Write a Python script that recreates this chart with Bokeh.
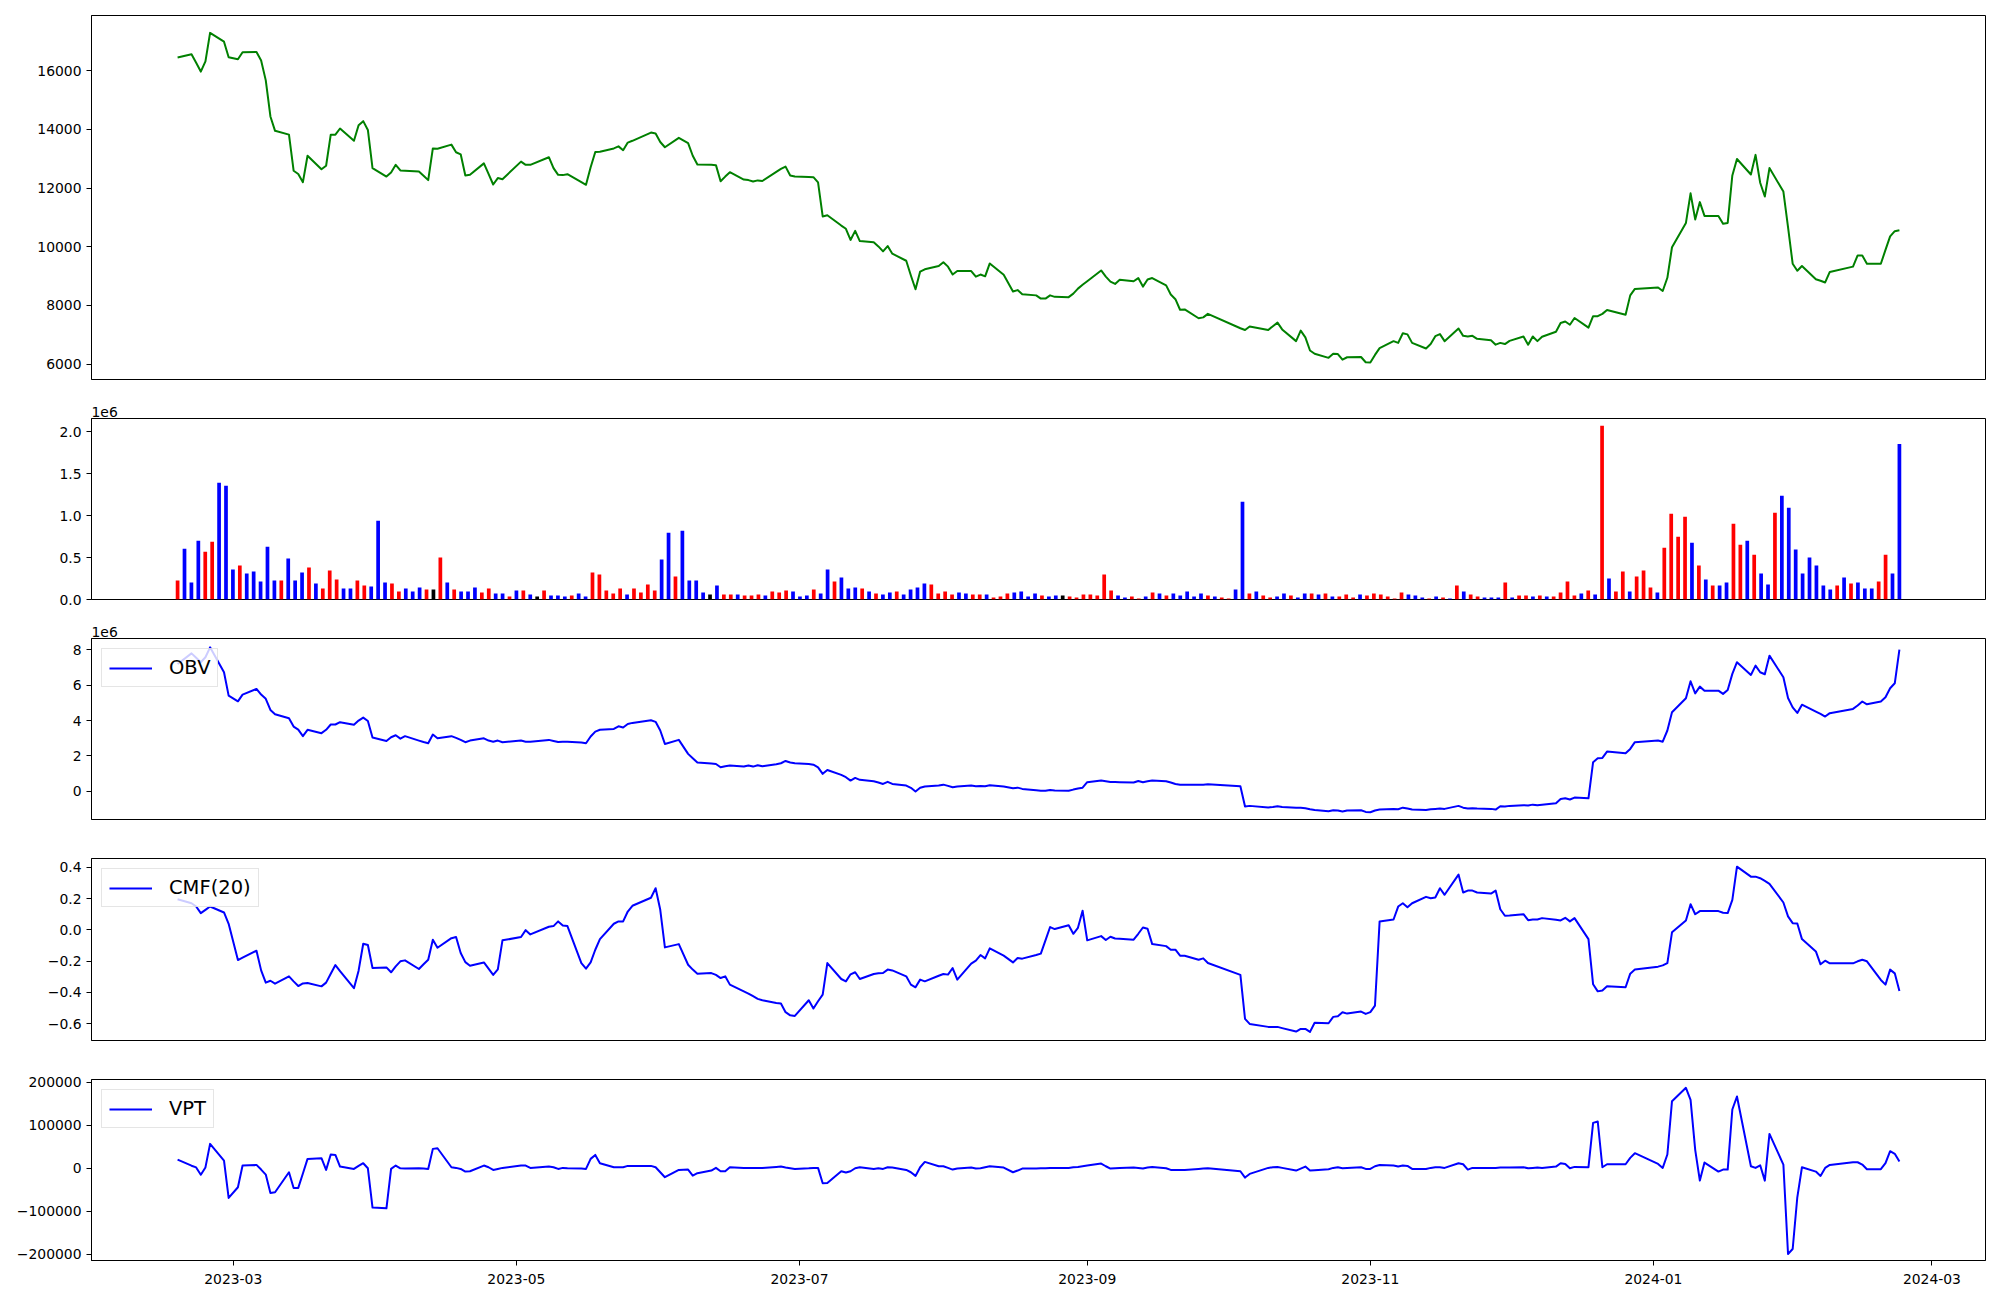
import numpy as np
import pandas as pd
from bokeh.plotting import figure
from bokeh.layouts import column
from bokeh.models import Range1d, FixedTicker, CustomJSTickFormatter, ColumnDataSource
from bokeh.embed import file_html
from bokeh.resources import INLINE

# ---------------- data ----------------
krx_holidays = ["2023-03-01", "2023-05-01", "2023-05-05", "2023-05-29", "2023-06-06",
                "2023-08-15", "2023-09-28", "2023-09-29", "2023-10-02", "2023-10-03",
                "2023-10-09", "2023-12-25", "2023-12-29", "2024-01-01", "2024-02-09",
                "2024-02-12"]
dates = pd.bdate_range("2023-02-17", "2024-02-23")
dates = dates[~dates.isin(pd.to_datetime(krx_holidays))]

close = [
    16450, 16560, 16270, 15970, 16320, 17290, 16990, 16460,
    16390, 16630, 16640, 16350, 15670, 14440, 13950, 13820, 12590, 12480, 12200, 13100,
    12640, 12760, 13820, 13820, 14030, 13610, 14140, 14280, 13980, 12680,
    12390, 12530, 12790, 12600, 12590, 12560, 12420, 12270, 13350, 13340,
    13480, 13220, 13150, 12430, 12450, 12840, 12480, 12120, 12340, 12300,
    12900, 12790, 12790, 13050, 12680, 12450, 12440, 12470, 12200, 12110,
    12710, 13230, 13240, 13350, 13420, 13290, 13550, 13610, 13890, 13860,
    13570, 13390, 13710, 13530, 13100, 12800, 12790, 12780, 12230, 12390, 12540,
    12290, 12270, 12220, 12260, 12240, 12550, 12650, 12730, 12430, 12390,
    12380, 12370, 12190, 11030, 11070, 10720, 10610, 10230, 10540, 10190,
    10150, 10010, 9840, 10020, 9760, 9520, 9020, 8550, 9150, 9230, 9340,
    9470, 9320, 9050, 9170, 9170, 8980, 9050, 8990, 9430, 9040, 8470,
    8520, 8380, 8340, 8230, 8230, 8340, 8290, 8280, 8400, 8570, 8700,
    8820, 9190, 8980, 8810, 8730, 8870, 8820, 8930, 8640, 8880,
    8930, 8680, 8370, 8210, 7850, 7860, 7560, 7590, 7710,
    7220, 7160, 7280, 7160, 7290, 7410, 7180, 6780, 7140, 6910,
    6460, 6350, 6210, 6350, 6340, 6150, 6230, 6240, 6060,
    6050, 6310, 6540, 6780, 6720, 7050, 7010, 6720, 6530, 6680, 6950,
    7020, 6780, 7210, 6960, 6940, 6960, 6860, 6810, 6660, 6720, 6680,
    6790, 6940, 6660, 6940, 6780, 6930, 7100, 7400, 7450, 7340,
    7570, 7240, 7630, 7630, 7710, 7840, 7680, 8340, 8560,
    8610, 8490, 8940, 9980, 10810, 11820, 10930, 11520, 11050, 11050, 10780,
    10810, 12430, 12990, 12460, 13130, 12180, 11710, 12680, 11880, 10670, 9420,
    9180, 9340, 8890, 8840, 8780, 9140, 9320, 9700, 9700, 9420,
    9420, 9890, 10350, 10530, 10560,
]

volume_mil = [
    0.226, 0.605, 0.202, 0.700, 0.570, 0.689, 1.389, 1.353, 0.356, 0.404,
    0.309, 0.332, 0.214, 0.629, 0.226, 0.226, 0.487, 0.226, 0.321, 0.380,
    0.190, 0.131, 0.344, 0.237, 0.131, 0.131, 0.226, 0.166, 0.154, 0.938,
    0.202, 0.190, 0.095, 0.131, 0.095, 0.142, 0.119, 0.119, 0.499, 0.202,
    0.119, 0.095, 0.095, 0.142, 0.083, 0.131, 0.071, 0.071, 0.036, 0.107,
    0.107, 0.059, 0.036, 0.107, 0.047, 0.047, 0.036, 0.047, 0.071, 0.036,
    0.321, 0.297, 0.107, 0.071, 0.131, 0.059, 0.131, 0.083, 0.178, 0.107,
    0.475, 0.795, 0.273, 0.819, 0.226, 0.226, 0.083, 0.059, 0.166, 0.059,
    0.059, 0.059,
    0.047, 0.047, 0.059, 0.047, 0.095, 0.083, 0.107, 0.095, 0.036, 0.047,
    0.119, 0.071, 0.356, 0.214, 0.261, 0.131, 0.142, 0.131, 0.095, 0.071,
    0.059, 0.083, 0.095, 0.059, 0.119, 0.142, 0.190, 0.178, 0.071, 0.095,
    0.059, 0.083, 0.071, 0.059, 0.059, 0.059, 0.024, 0.036, 0.071, 0.083,
    0.095, 0.036, 0.071, 0.047, 0.036, 0.047, 0.047, 0.036, 0.024, 0.059,
    0.059, 0.047, 0.297, 0.107, 0.047, 0.024, 0.036, 0.012, 0.036, 0.083,
    0.071, 0.047, 0.071, 0.047, 0.095, 0.036, 0.071, 0.047, 0.036, 0.024,
    0.012, 0.119, 1.163, 0.071, 0.095, 0.047, 0.024, 0.036, 0.071, 0.047,
    0.024, 0.071, 0.071, 0.059, 0.071, 0.036, 0.036, 0.059, 0.024, 0.059,
    0.047,
    0.071, 0.059, 0.036, 0.012, 0.083, 0.059, 0.047, 0.024, 0.012, 0.036,
    0.024, 0.012, 0.166, 0.095, 0.059, 0.036, 0.024, 0.024, 0.024, 0.202,
    0.024, 0.047, 0.047, 0.036, 0.047, 0.036, 0.036, 0.083, 0.214, 0.047,
    0.071, 0.107, 0.059, 2.070, 0.249, 0.095, 0.332, 0.095, 0.273, 0.344,
    0.142, 0.083, 0.617, 1.021, 0.748, 0.985, 0.677, 0.404, 0.237, 0.166,
    0.166, 0.202, 0.902, 0.653, 0.700, 0.534, 0.309, 0.178, 1.033, 1.235,
    1.092, 0.594, 0.309, 0.499, 0.404, 0.166, 0.119, 0.166, 0.261, 0.190,
    0.202, 0.131, 0.131, 0.214, 0.534, 0.309, 1.850,
]

# r = close above open, b = close below open, k = unchanged
bar_dir = ("rbbbrrbbbr" "bbbbbrbbbr" "brrrbbrrbb" "brrbbbrkrb" "rbbbrrbbrb"
           "rbkrbbbrbb" "rrrrrbrrrr" "bbrbbbbkbr" "rb"
           "rrrbrrrbbb" "rbbrbbbrbr" "bbrbbbbrrr" "rbbrrbrrrb" "bbbrbbkrrr"
           "rrrrbbrrbr" "brbbbbbrbr" "rbbrbrrbbr" "bbrbrbrrrb" "r"
           "rrrrrbbbrb" "rbrbrrbbbr" "brrbrbrrrr" "brbrbrrbrr" "rbrrrrbrbr"
           "bbrrbrbbrb" "bbbbbbbrbr" "bbbrrbb")

obv_mil = [
    7.20, 7.80, 7.55, 7.30, 7.58, 8.14, 6.73, 5.41,
    5.09, 5.47, 5.79, 5.47, 5.23, 4.60, 4.36, 4.13, 3.66, 3.49, 3.12, 3.48,
    3.29, 3.48, 3.78, 3.78, 3.91, 3.76, 4.00, 4.17, 3.98, 3.04,
    2.85, 3.06, 3.17, 2.98, 3.12, 2.87, 2.79, 2.72, 3.21, 3.00,
    3.12, 3.02, 2.91, 2.78, 2.87, 3.00, 2.87, 2.81, 2.87, 2.78,
    2.87, 2.81, 2.81, 2.91, 2.85, 2.79, 2.81, 2.81, 2.76, 2.72,
    3.10, 3.38, 3.48, 3.53, 3.68, 3.61, 3.81, 3.87, 4.02, 3.93,
    3.44, 2.68, 2.91, 2.12, 1.87, 1.63, 1.57, 1.55, 1.36, 1.42, 1.46,
    1.40, 1.46, 1.40, 1.48, 1.42, 1.53, 1.59, 1.72, 1.63, 1.59,
    1.55, 1.51, 1.36, 0.99, 1.21, 0.93, 0.80, 0.61, 0.76, 0.65,
    0.57, 0.50, 0.42, 0.54, 0.42, 0.33, 0.20, -0.01, 0.20, 0.27, 0.33,
    0.38, 0.31, 0.23, 0.27, 0.33, 0.29, 0.31, 0.29, 0.35, 0.27, 0.18,
    0.21, 0.14, 0.06, 0.03, 0.03, 0.08, 0.05, 0.03, 0.10, 0.16, 0.21,
    0.52, 0.61, 0.57, 0.53, 0.53, 0.52, 0.50, 0.59, 0.52, 0.57,
    0.61, 0.57, 0.50, 0.42, 0.37, 0.38, 0.37, 0.38, 0.40,
    0.29, -0.86, -0.82, -0.91, -0.88, -0.84, -0.88, -0.93, -0.93, -0.95,
    -1.01, -1.05, -1.12, -1.07, -1.08, -1.14, -1.08, -1.07, -1.16,
    -1.18, -1.08, -1.03, -0.99, -1.01, -0.92, -0.97, -1.03, -1.05, -1.01, -0.99,
    -0.97, -0.99, -0.82, -0.92, -0.97, -0.95, -0.97, -0.99, -1.03, -0.84, -0.86,
    -0.82, -0.78, -0.80, -0.75, -0.78, -0.75, -0.67, -0.43, -0.39, -0.46,
    -0.35, -0.39, 1.65, 1.87, 1.89, 2.25, 2.15, 2.40, 2.78,
    2.87, 2.81, 3.44, 4.47, 5.26, 6.22, 5.54, 5.92, 5.69, 5.69, 5.51,
    5.73, 6.64, 7.30, 6.58, 7.11, 6.73, 6.62, 7.67, 6.45, 5.28, 4.75,
    4.43, 4.90, 4.51, 4.38, 4.23, 4.42, 4.66, 4.85, 5.08, 4.92,
    5.08, 5.32, 5.83, 6.11, 8.01,
]

cmf20 = [
    0.196, 0.170, 0.149, 0.107, 0.128, 0.149, 0.111, 0.039,
    -0.193, -0.178, -0.133, -0.259, -0.337, -0.325, -0.344, -0.297, -0.329, -0.359, -0.342,
    -0.340, -0.361, -0.337, -0.280, -0.225, -0.263, -0.373, -0.261, -0.089, -0.097, -0.244,
    -0.240, -0.271, -0.233, -0.201, -0.195, -0.250, -0.220, -0.191, -0.063, -0.114,
    -0.053, -0.046, -0.148, -0.206, -0.229, -0.208, -0.248, -0.288, -0.252, -0.067,
    -0.046, -0.002, -0.029, 0.020, 0.024, 0.054, 0.028, 0.024, -0.212, -0.248,
    -0.208, -0.127, -0.059, 0.039, 0.054, 0.054, 0.117, 0.154, 0.205, 0.266,
    0.128, -0.112, -0.091, -0.223, -0.254, -0.280, -0.276, -0.288, -0.308, -0.297, -0.350,
    -0.393, -0.407, -0.424, -0.441, -0.450, -0.467, -0.471, -0.526, -0.546, -0.550,
    -0.450, -0.503, -0.456, -0.414, -0.212, -0.314, -0.329, -0.284, -0.271, -0.314,
    -0.282, -0.278, -0.276, -0.254, -0.259, -0.297, -0.350, -0.367, -0.318, -0.329, -0.293,
    -0.282, -0.286, -0.244, -0.318, -0.216, -0.197, -0.161, -0.182, -0.118, -0.165, -0.208,
    -0.180, -0.184, -0.161, -0.152, -0.067, 0.018, 0.005, 0.030, -0.025, 0.013, 0.122,
    -0.067, -0.040, -0.065, -0.044, -0.055, -0.057, -0.063, -0.025, 0.015, 0.007,
    -0.091, -0.104, -0.127, -0.127, -0.165, -0.165, -0.191, -0.182, -0.212,
    -0.288, -0.569, -0.601, -0.620, -0.620, -0.620, -0.628, -0.650, -0.633, -0.633,
    -0.652, -0.594, -0.597, -0.556, -0.552, -0.526, -0.535, -0.522, -0.537,
    -0.526, -0.484, 0.054, 0.066, 0.149, 0.170, 0.145, 0.170, 0.211, 0.202, 0.207,
    0.266, 0.224, 0.353, 0.239, 0.251, 0.251, 0.239, 0.232, 0.251, 0.132, 0.090,
    0.092, 0.100, 0.062, 0.066, 0.066, 0.075, 0.064, 0.060, 0.077, 0.054,
    0.075, -0.059, -0.348, -0.393, -0.388, -0.361, -0.367, -0.280, -0.254,
    -0.235, -0.227, -0.212, -0.016, 0.060, 0.164, 0.100, 0.120, 0.120, 0.120, 0.109,
    0.107, 0.192, 0.404, 0.340, 0.340, 0.330, 0.313, 0.294, 0.175, 0.086, 0.043,
    0.041, -0.059, -0.138, -0.220, -0.197, -0.214, -0.214, -0.201, -0.191, -0.201,
    -0.320, -0.350, -0.254, -0.278, -0.390,
]

vpt_thousand = [
    20.2, 6.0, 2.0, -15.0, 2.0, 56.6, 18.0, -68.8,
    -44.0, 6.3, 7.8, -3.0, -14.6, -57.2, -55.7, -9.2, -45.6, -45.6, -12.0,
    21.8, 23.3, -3.8, 31.8, 31.0, 3.9, -1.5, 5.5, 11.7, 0.0, -91.3,
    -92.8, -1.5, 6.3, 0.0, -0.7, 0.0, -0.7, -1.5, 45.0, 46.5,
    2.4, 0.9, -1.5, -7.7, -6.9, 6.3, 2.4, -3.8, -1.5, 0.9,
    6.3, 6.3, 0.9, 3.9, 2.4, -1.5, 0.9, 0.0, -0.7, -1.5,
    21.8, 31.0, 11.7, 2.4, 2.4, 2.4, 5.5, 5.5, 5.5, 2.4,
    -9.2, -20.8, -3.8, -3.0, -17.0, -11.5, -5.3, 0.9, -6.9, -6.9, 2.4,
    0.9, 0.9, 0.9, 0.9, 0.9, 3.2, 3.9, 1.6, 0.0, -1.5,
    0.0, 0.9, 0.9, -34.8, -34.0, -6.9, -10.0, -6.9, 0.0, 2.4,
    -1.5, 0.0, -1.5, 2.4, 1.6, -3.8, -9.2, -17.7, 2.4, 14.8, 4.7,
    4.7, 0.9, -3.0, -0.7, 1.6, -0.7, 0.0, 2.4, 4.7, 1.6, -9.2,
    -5.3, -0.7, -0.7, 0.0, 0.0, 0.9, 0.9, 0.9, 2.4, 3.2, 4.7,
    6.3, 11.0, 4.7, -0.7, 0.0, 0.9, 1.6, 0.9, -0.7, 1.6,
    3.2, 0.0, -3.8, -3.8, -3.8, -3.8, -1.5, -0.7, 0.0,
    -6.9, -21.6, -13.1, 0.9, 2.4, 3.2, 0.9, -5.3, -0.7, 3.9,
    -5.3, -4.6, -2.2, 0.9, 2.4, 0.0, 0.9, 2.4, -1.5,
    -1.5, 4.7, 7.8, 6.3, 3.9, 6.3, 5.5, -1.5, -1.5, 0.9, 2.4,
    2.4, 0.9, 11.7, 9.4, -3.0, 0.9, 0.9, 0.9, 0.9, 1.6, 1.6,
    1.6, 2.4, 0.0, 0.9, 1.6, 0.9, 3.9, 11.7, 10.1, 0.0,
    3.2, 2.4, 105.4, 108.5, 2.4, 9.4, 9.4, 24.1, 35.0,
    10.1, 0.9, 31.9, 155.7, 186.7, 158.8, 42.7, -28.6, 13.3, -7.7, -3.0,
    -3.0, 136.3, 166.5, 4.7, 0.9, 7.0, -28.6, 79.8, 8.6, -198.9, -187.3,
    -67.3, 2.4, -7.7, -17.7, 0.9, 7.8, 14.0, 14.0, 8.6, -2.2,
    -2.2, 11.7, 39.6, 33.5, 15.6,
]

price_ticks = [6000, 8000, 10000, 12000, 14000, 16000]
volume_ticks = [0, 500000, 1000000, 1500000, 2000000]
obv_ticks = [0, 2000000, 4000000, 6000000, 8000000]
cmf_ticks = [-0.6, -0.4, -0.2, 0.0, 0.2, 0.4]
vpt_ticks = [-200000, -100000, 0, 100000, 200000]
date_ticks = ["2023-03-01", "2023-05-01", "2023-07-01", "2023-09-01",
              "2023-11-01", "2024-01-01", "2024-03-01"]

N = len(dates)
assert len(close) == N and len(volume_mil) == N and len(bar_dir) == N
assert len(obv_mil) == N and len(cmf20) == N and len(vpt_thousand) == N

# ---------------- derived columns ----------------
ms = (dates.values.astype("datetime64[ms]").astype(np.int64)).astype(float)
t0, t1 = ms[0], ms[-1]
span = t1 - t0
DAY = 86400000.0
bar_x = np.linspace(t0, t1, N)
dir_color = {"r": "red", "b": "blue", "k": "black"}
bar_colors = [dir_color[c] for c in bar_dir]

src = ColumnDataSource(dict(
    t=ms, close=close,
    obv=np.array(obv_mil) * 1e6,
    cmf=cmf20,
    vpt=np.array(vpt_thousand) * 1e3,
))
bar_src = ColumnDataSource(dict(x=bar_x, vol=np.array(volume_mil) * 1e6, color=bar_colors))

xr = Range1d(start=t0 - 0.05 * span, end=t1 + 0.05 * span)

FONT = "DejaVu Sans"
FS = "13.9px"
LEFT = 91
WIDTH = 1992


def style_axis(ax):
    ax.major_label_text_font = FONT
    ax.major_label_text_font_size = FS
    ax.major_label_text_color = "black"
    ax.axis_line_color = "black"
    ax.major_tick_line_color = "black"
    ax.major_tick_line_width = 1
    ax.major_tick_out = 5
    ax.major_tick_in = 0
    ax.minor_tick_line_color = None
    ax.major_label_standoff = 5


def make_fig(height, top, bottom, yr, yticks, yfmt=None, xaxis=False, title=None):
    p = figure(width=WIDTH, height=height, x_range=xr, y_range=yr,
               x_axis_type="datetime",
               x_axis_location="below" if xaxis else None,
               toolbar_location=None, output_backend="svg",
               min_border_left=LEFT, min_border_right=7,
               min_border_top=top, min_border_bottom=bottom,
               title=title)
    p.outline_line_color = "black"
    p.outline_line_width = 1
    p.outline_line_alpha = 1
    p.background_fill_color = "white"
    p.border_fill_color = "white"
    p.xgrid.visible = False
    p.ygrid.visible = False
    p.yaxis.ticker = FixedTicker(ticks=yticks)
    if yfmt is not None:
        p.yaxis.formatter = CustomJSTickFormatter(code=yfmt)
    style_axis(p.yaxis[0])
    if title is not None:
        p.title.align = "left"
        p.title.text_font = FONT
        p.title.text_font_size = FS
        p.title.text_font_style = "normal"
        p.title.text_color = "black"
        p.title.standoff = 3
        p.title.offset = 0
    return p


def style_legend(p):
    lg = p.legend[0]
    lg.location = "top_left"
    lg.margin = 10
    lg.padding = 7
    lg.spacing = 0
    lg.glyph_width = 43
    lg.glyph_height = 20
    lg.label_height = 20
    lg.label_standoff = 17
    lg.label_text_font = FONT
    lg.label_text_font_size = "19.5px"
    lg.label_text_color = "black"
    lg.border_line_color = "#cccccc"
    lg.border_line_width = 1
    lg.background_fill_color = "white"
    lg.background_fill_alpha = 0.8


MINUS = "replace('-', '\\u2212')"

# Panel 1: price
p1 = make_fig(398, 15, 19, Range1d(5472, 17882), price_ticks)
p1.line("t", "close", source=src, line_color="green", line_width=2, line_join="round")

# Panel 2: volume bars
p2 = make_fig(220, 20, 19, Range1d(0, 2.155e6), volume_ticks,
              yfmt="return (tick/1e6).toFixed(1);", title="1e6")
p2.vbar(x="x", top="vol", width=0.8 * DAY, bottom=0, source=bar_src,
        fill_color="color", line_color=None)

# Panel 3: OBV
p3 = make_fig(220, 20, 19, Range1d(-1.59e6, 8.64e6), obv_ticks,
              yfmt="return (tick/1e6).toFixed(0).%s;" % MINUS, title="1e6")
p3.line("t", "obv", source=src, line_color="blue", line_width=2, line_join="round",
        legend_label="OBV")
style_legend(p3)

# Panel 4: CMF
p4 = make_fig(221, 20, 19, Range1d(-0.707, 0.456), cmf_ticks,
              yfmt="var s = tick.toFixed(1); if (s == '-0.0') s = '0.0'; return s.%s;" % MINUS)
p4.line("t", "cmf", source=src, line_color="blue", line_width=2, line_join="round",
        legend_label="CMF(20)")
style_legend(p4)

# Panel 5: VPT with date axis
p5 = make_fig(241, 20, 40, Range1d(-214000, 206000), vpt_ticks,
              yfmt="return tick.toFixed(0).%s;" % MINUS, xaxis=True)
p5.line("t", "vpt", source=src, line_color="blue", line_width=2, line_join="round",
        legend_label="VPT")
style_legend(p5)
p5.xaxis.ticker = FixedTicker(ticks=[pd.Timestamp(d).value / 1e6 for d in date_ticks])
p5.xaxis.formatter = CustomJSTickFormatter(code="""
const d = new Date(tick);
const m = d.getUTCMonth() + 1;
return d.getUTCFullYear() + '-' + (m < 10 ? '0' + m : '' + m);
""")
style_axis(p5.xaxis[0])
p5.xaxis.major_label_standoff = 8

layout = column(p1, p2, p3, p4, p5, spacing=0)

open("out.html", "w").write(file_html(layout, INLINE))
